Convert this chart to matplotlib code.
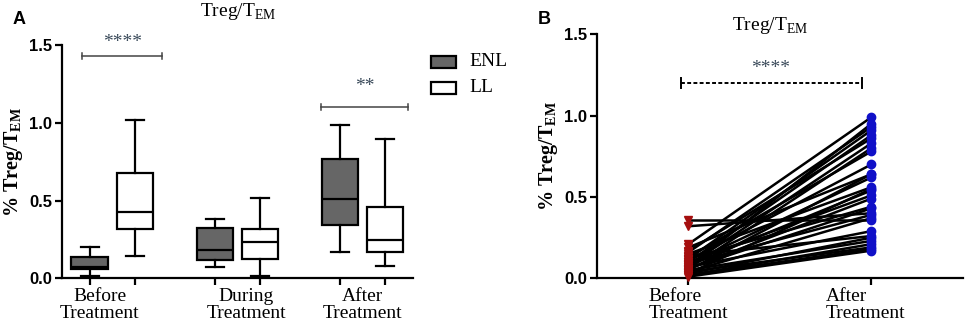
import matplotlib
matplotlib.use("Agg")
import matplotlib.pyplot as plt
from matplotlib.patches import Rectangle

# panel A: box stats (whislo, q1, med, q3, whishi)
groups = ["Before\nTreatment", "During\nTreatment", "After\nTreatment"]
enl_stats = [[0.015, 0.057, 0.07, 0.138, 0.198],
             [0.074, 0.117, 0.181, 0.323, 0.383],
             [0.166, 0.34, 0.51, 0.766, 0.983]]
ll_stats = [[0.144, 0.319, 0.425, 0.68, 1.015],
            [0.015, 0.121, 0.234, 0.319, 0.517],
            [0.08, 0.17, 0.249, 0.461, 0.893]]

# panel B: paired values, before and after treatment
before = [0.36, 0.32, 0.21, 0.19, 0.17, 0.16, 0.15, 0.14, 0.13, 0.12, 0.12,
          0.11, 0.10, 0.10, 0.09, 0.09, 0.08, 0.08, 0.07, 0.07, 0.06, 0.06,
          0.05, 0.05, 0.04, 0.04, 0.03, 0.03, 0.02, 0.02, 0.01, 0.06]
after = [0.36, 0.40, 0.99, 0.64, 0.86, 0.93, 0.56, 0.26, 0.78, 0.91, 0.44,
         0.70, 0.51, 0.88, 0.62, 0.39, 0.83, 0.54, 0.95, 0.29, 0.49, 0.80,
         0.23, 0.64, 0.37, 0.19, 0.55, 0.25, 0.21, 0.18, 0.17, 0.43]
paired_labels = ["Before\nTreatment", "After\nTreatment"]

serif = "Liberation Serif"
sans = "Liberation Sans"
plt.rcParams['font.family'] = serif

fig = plt.figure(figsize=(9.68, 3.30), dpi=100)


def stat_dicts(rows):
    return [dict(whislo=r[0], q1=r[1], med=r[2], q3=r[3], whishi=r[4], fliers=[]) for r in rows]


def style_axis(ax):
    for s in ['top', 'right']:
        ax.spines[s].set_visible(False)
    for s in ['left', 'bottom']:
        ax.spines[s].set_linewidth(1.6)
    ax.set_ylim(0, 1.5)
    ax.set_yticks([0.0, 0.5, 1.0, 1.5])
    ax.set_yticklabels(["0.0", "0.5", "1.0", "1.5"], fontfamily=sans,
                       fontweight='bold', fontsize=12)
    ax.tick_params(axis='both', length=5, width=1.6, direction='out', pad=2)


# ---------- panel A ----------
axA = fig.add_axes([0.064, 0.1567, 0.3626, 0.707])
style_axis(axA)
pos = [1, 2, 3]
off = 0.18
bw = 0.288
lw = 1.6
for stats, dx, fc in [(enl_stats, -off, '#666666'), (ll_stats, off, 'white')]:
    axA.bxp(stat_dicts(stats), positions=[p + dx for p in pos], widths=bw,
            patch_artist=True, showfliers=False, capwidths=bw * 0.5,
            boxprops=dict(facecolor=fc, edgecolor='black', linewidth=lw),
            medianprops=dict(color='black', linewidth=lw),
            whiskerprops=dict(color='black', linewidth=lw),
            capprops=dict(color='black', linewidth=lw))
axA.set_xlim(0.6, 3.4)
axA.set_xticks([p + d for p in pos for d in (-off, off)])
axA.set_xticklabels([])
for x, lab in zip([0.9, 2.07, 3.0], groups):
    axA.text(x, -0.06, lab, ha='center', va='top', fontsize=14,
             linespacing=1.0)
axA.set_ylabel("% Treg/T$_{\\mathregular{EM}}$", fontweight='bold', fontsize=14.5,
               labelpad=3)

# significance brackets
for (x1, x2, y, stars, ys) in [(0.76, 1.40, 1.43, "****", 1.46), (2.67, 3.36, 1.10, "**", 1.18)]:
    axA.plot([x1, x2], [y, y], color='#444444', lw=1.1, clip_on=False)
    axA.plot([x1, x1], [y - 0.02, y + 0.02], color='#444444', lw=1.1, clip_on=False)
    axA.plot([x2, x2], [y - 0.02, y + 0.02], color='#444444', lw=1.1, clip_on=False)
    axA.text((x1 + x2) / 2, ys, stars, ha='center', va='bottom', fontsize=14,
             color='#3a4a5a', clip_on=False)

fig.text(238 / 968, 1 - 16 / 330, "Treg/T$_{\\mathregular{EM}}$", ha='center',
         va='baseline', fontsize=14)
fig.text(13 / 968, 1 - 24 / 330, "A", fontfamily=sans, fontweight='bold', fontsize=13)

# legend drawn by hand
for y_px, fc, lab in [(56, '#666666', "ENL"), (82, 'white', "LL")]:
    fig.patches.append(Rectangle((431 / 968, 1 - (y_px + 12) / 330), 25 / 968, 12 / 330,
                                 transform=fig.transFigure, facecolor=fc,
                                 edgecolor='black', linewidth=1.6))
    fig.text(469 / 968, 1 - (y_px + 6) / 330, lab, va='center', ha='left', fontsize=14)

# ---------- panel B ----------
axB = fig.add_axes([0.6167, 0.1567, 0.378, 0.7394])
style_axis(axB)
for b, a in zip(before, after):
    axB.plot([0, 1], [b, a], color='black', lw=1.8, zorder=2)
axB.plot([0] * len(before), before, linestyle='none', marker='v', color='#a50f0f',
         markersize=6, zorder=3, clip_on=False)
axB.plot([1] * len(after), after, linestyle='none', marker='o', color='#1010c8',
         markersize=6, zorder=3, clip_on=False)
axB.set_xlim(-0.5, 1.5)
axB.set_xticks([0, 1])
axB.set_xticklabels([])
for x, lab in zip([0.0, 0.97], paired_labels):
    axB.text(x, -0.06, lab, ha='center', va='top', fontsize=14, linespacing=1.0,
             multialignment='left')
axB.set_ylabel("% Treg/T$_{\\mathregular{EM}}$", fontweight='bold', fontsize=14.5,
               labelpad=3)

# dashed bracket
x1, x2, y = -0.043, 0.946, 1.2
axB.plot([x1, x2], [y, y], color='black', lw=1.4, linestyle=(0, (2.0, 1.2)))
axB.plot([x1, x1], [y - 0.03, y + 0.03], color='black', lw=1.4)
axB.plot([x2, x2], [y - 0.03, y + 0.03], color='black', lw=1.4)
axB.text((x1 + x2) / 2, 1.235, "****", ha='center', va='bottom', fontsize=14,
         color='#3a4a5a')

fig.text(770 / 968, 1 - 30 / 330, "Treg/T$_{\\mathregular{EM}}$", ha='center',
         va='baseline', fontsize=14)
fig.text(538 / 968, 1 - 24 / 330, "B", fontfamily=sans, fontweight='bold', fontsize=13)

fig.savefig("out.png", dpi=100)
